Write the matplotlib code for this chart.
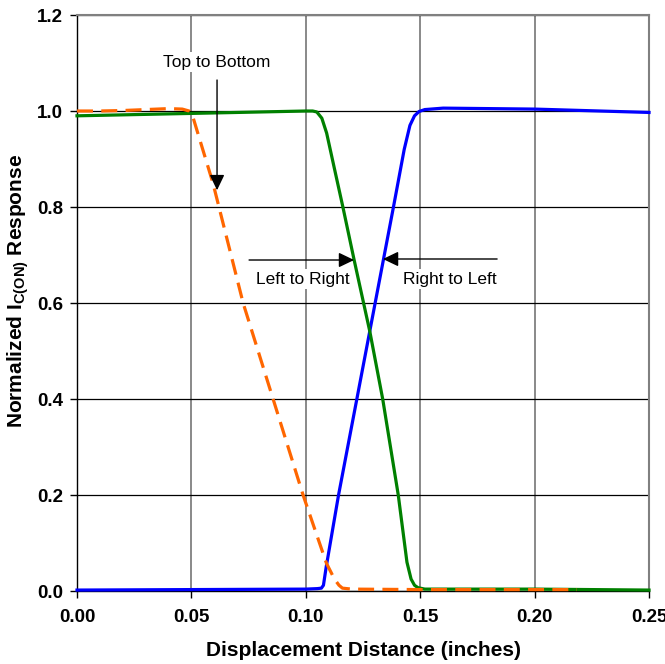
import matplotlib
matplotlib.use("Agg")
import matplotlib.pyplot as plt

plt.rcParams['font.family'] = ['Liberation Sans', 'DejaVu Sans']
plt.rcParams['mathtext.fontset'] = 'custom'
plt.rcParams['mathtext.rm'] = 'Liberation Sans'
plt.rcParams['mathtext.bf'] = 'Liberation Sans:bold'

# Top to Bottom (orange dashed)
x_tb = [0.0, 0.01, 0.02, 0.03, 0.04, 0.046, 0.049, 0.0505, 0.0594, 0.0726, 0.0857, 0.0988,
        0.109, 0.1125, 0.1145, 0.116, 0.12, 0.15, 0.18, 0.2185]
y_tb = [1.0, 1.0, 1.001, 1.003, 1.005, 1.004, 1.0, 0.99, 0.85, 0.6, 0.4, 0.2,
        0.058, 0.025, 0.012, 0.006, 0.004, 0.003, 0.003, 0.003]

# Left to Right (green)
x_lr = [0.0, 0.02, 0.05, 0.08, 0.1, 0.103, 0.1048, 0.107, 0.1091, 0.1125, 0.1162, 0.1211,
        0.128, 0.1336, 0.1404, 0.1442, 0.146, 0.1475, 0.149, 0.152, 0.17, 0.2, 0.25]
y_lr = [0.99, 0.992, 0.995, 0.998, 1.0, 1.0, 0.998, 0.985, 0.954, 0.88, 0.8, 0.69,
        0.54, 0.4, 0.2, 0.06, 0.025, 0.012, 0.007, 0.004, 0.004, 0.004, 0.002]

# Right to Left (blue)
x_rl = [0.0, 0.05, 0.1, 0.105, 0.1068, 0.1077, 0.1089, 0.1143, 0.1223, 0.1279, 0.1339,
        0.1383, 0.143, 0.1455, 0.1475, 0.1495, 0.152, 0.16, 0.2, 0.25]
y_rl = [0.002, 0.003, 0.004, 0.005, 0.006, 0.012, 0.05, 0.2, 0.4, 0.54, 0.69,
        0.8, 0.92, 0.97, 0.99, 0.999, 1.003, 1.006, 1.004, 0.997]

x_ticks = [0.0, 0.05, 0.10, 0.15, 0.20, 0.25]
y_ticks = [0.0, 0.2, 0.4, 0.6, 0.8, 1.0, 1.2]

fig = plt.figure(figsize=(6.65, 6.64), dpi=100)
ax = fig.add_axes([0.1158, 0.1099, 0.976 - 0.1158, 0.9774 - 0.1099])

ax.plot(x_rl, y_rl, color='#0000ff', lw=2.3, clip_on=False, zorder=3)
ax.plot(x_lr, y_lr, color='#008000', lw=2.3, clip_on=False, zorder=3)
ax.plot(x_tb, y_tb, color='#ff6600', lw=2.3, dashes=(5, 2.6), clip_on=False, zorder=4)

ax.set_xlim(0, 0.25)
ax.set_ylim(0, 1.2)
ax.set_xticks(x_ticks)
ax.set_yticks(y_ticks)
ax.set_xticklabels([f"{v:.2f}" for v in x_ticks], fontsize=13.5, fontweight='bold')
ax.set_yticklabels([f"{v:.1f}" for v in y_ticks], fontsize=13.5, fontweight='bold')
ax.tick_params(direction='out', length=5, width=1, color='black')
ax.tick_params(axis='x', pad=8)
ax.tick_params(axis='y', pad=5)

ax.yaxis.grid(True, color='black', lw=0.9)
ax.xaxis.grid(True, color='#808080', lw=1.3)
ax.set_axisbelow(True)
for s in ['top', 'right']:
    ax.spines[s].set_color('#808080')
    ax.spines[s].set_linewidth(1.5)
for s in ['left', 'bottom']:
    ax.spines[s].set_color('black')
    ax.spines[s].set_linewidth(1.0)

fig.text(363 / 665, 1 - 650 / 664, 'Displacement Distance (inches)', fontsize=15,
         fontweight='bold', ha='center', va='center')
fig.text(18 / 665, 1 - 291 / 664, r'Normalized I$_{\mathbf{C(ON)}}$ Response', fontsize=15,
         fontweight='bold', ha='center', va='center', rotation=90)

arrow = dict(arrowstyle='-|>,head_length=0.75,head_width=0.36', color='black', lw=1.0,
             shrinkA=0, shrinkB=0)
bbox = dict(facecolor='white', edgecolor='none', pad=1.5)
fs = 12.5

ax.annotate('', xy=(0.0612, 0.835), xytext=(0.0612, 1.0646), arrowprops=arrow, fontsize=fs, zorder=5)
ax.text(0.0612, 1.102, 'Top to Bottom', ha='center', va='center', fontsize=fs, bbox=bbox, zorder=2)

ax.annotate('', xy=(0.1211, 0.6896), xytext=(0.0752, 0.6896), arrowprops=arrow, fontsize=fs, zorder=5)
ax.text(0.0988, 0.65, 'Left to Right', ha='center', va='center', fontsize=fs, bbox=bbox, zorder=2)

ax.annotate('', xy=(0.1337, 0.6917), xytext=(0.1836, 0.6917), arrowprops=arrow, fontsize=fs, zorder=5)
ax.text(0.163, 0.65, 'Right to Left', ha='center', va='center', fontsize=fs, bbox=bbox, zorder=2)

fig.savefig('out.png', dpi=100)
